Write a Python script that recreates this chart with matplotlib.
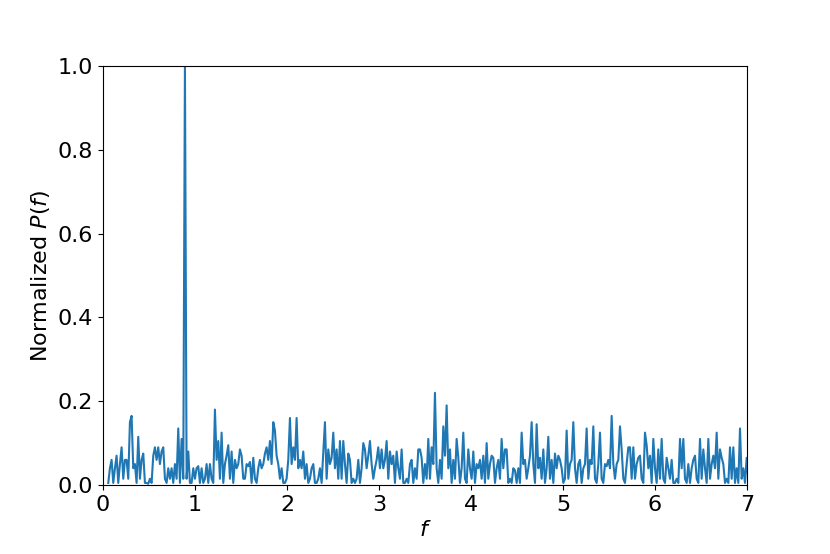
import numpy as np
import matplotlib
matplotlib.use('Agg')
import matplotlib.pyplot as plt

# normalized periodogram values, f from ~0.058 up to ~7.05
power_a = [0.005, 0.04, 0.06, 0.005, 0.04, 0.07, 0.005, 0.05, 0.09, 0.015,
           0.06, 0.06, 0.015, 0.15, 0.165, 0.04, 0.05, 0.005, 0.115, 0.015,
           0.06, 0.075, 0.005, 0.005, 0.003, 0.015, 0.005, 0.07, 0.09, 0.06,
           0.09, 0.05, 0.08, 0.09, 0.015, 0.005, 0.04, 0.015, 0.04, 0.005,
           0.05, 0.015, 0.135, 0.005, 0.11, 0.015, 1.0, 0.015, 0.08, 0.005,
           0.005, 0.04, 0.015, 0.04, 0.045, 0.005, 0.04, 0.005, 0.015, 0.05,
           0.005]
power_b = [0.05, 0.015, 0.005, 0.18, 0.06, 0.105, 0.015, 0.125, 0.005, 0.05,
           0.07, 0.095, 0.015, 0.08, 0.005, 0.06, 0.04, 0.05, 0.085, 0.07,
           0.015, 0.015, 0.05, 0.045, 0.055, 0.005, 0.065, 0.015, 0.005, 0.04,
           0.06, 0.04, 0.05, 0.075, 0.09, 0.06, 0.105, 0.05, 0.15, 0.13,
           0.07, 0.05, 0.015, 0.04, 0.005, 0.005, 0.015, 0.06, 0.16, 0.05,
           0.09, 0.06, 0.16, 0.04, 0.06, 0.04, 0.08, 0.015, 0.05, 0.005,
           0.015, 0.04, 0.05]
power_c = [0.005, 0.005, 0.015, 0.04, 0.005, 0.08, 0.15, 0.015, 0.085, 0.05,
           0.065, 0.125, 0.04, 0.085, 0.015, 0.105, 0.015, 0.105, 0.05, 0.005,
           0.075, 0.06, 0.005, 0.015, 0.005, 0.015, 0.06, 0.005, 0.04, 0.1,
           0.085, 0.04, 0.07, 0.105, 0.05, 0.015, 0.04, 0.06, 0.09, 0.04,
           0.085, 0.04, 0.06, 0.105, 0.015, 0.08, 0.05, 0.07, 0.005, 0.08,
           0.04, 0.015, 0.085, 0.005, 0.005, 0.015, 0.005, 0.05, 0.06, 0.005,
           0.04, 0.015, 0.085]
power_d = [0.085, 0.065, 0.005, 0.05, 0.015, 0.11, 0.015, 0.09, 0.05, 0.22,
           0.04, 0.005, 0.06, 0.015, 0.14, 0.07, 0.19, 0.04, 0.085, 0.005,
           0.06, 0.015, 0.11, 0.065, 0.005, 0.04, 0.125, 0.015, 0.005, 0.085,
           0.04, 0.015, 0.08, 0.005, 0.05, 0.04, 0.06, 0.015, 0.07, 0.005,
           0.1, 0.015, 0.05, 0.07, 0.065, 0.005, 0.04, 0.06, 0.015, 0.11,
           0.04, 0.085, 0.085, 0.005, 0.015, 0.005, 0.04, 0.035, 0.005, 0.04,
           0.005, 0.125, 0.05]
power_e = [0.06, 0.015, 0.04, 0.07, 0.15, 0.05, 0.005, 0.145, 0.04, 0.065,
           0.015, 0.085, 0.005, 0.04, 0.115, 0.015, 0.06, 0.005, 0.075, 0.04,
           0.07, 0.06, 0.04, 0.005, 0.015, 0.13, 0.015, 0.05, 0.06, 0.15,
           0.04, 0.005, 0.05, 0.06, 0.005, 0.04, 0.05, 0.135, 0.015, 0.06,
           0.05, 0.14, 0.015, 0.005, 0.05, 0.125, 0.015, 0.005, 0.05, 0.045,
           0.06, 0.04, 0.165, 0.05, 0.015, 0.05, 0.06, 0.14, 0.085, 0.015,
           0.005, 0.05, 0.09]
power_f = [0.09, 0.015, 0.09, 0.015, 0.05, 0.065, 0.07, 0.015, 0.005, 0.125,
           0.095, 0.04, 0.07, 0.005, 0.11, 0.04, 0.005, 0.085, 0.015, 0.11,
           0.015, 0.005, 0.065, 0.04, 0.015, 0.06, 0.005, 0.005, 0.015, 0.005,
           0.11, 0.04, 0.11, 0.015, 0.005, 0.05, 0.005, 0.04, 0.06, 0.07,
           0.015, 0.005, 0.11, 0.015, 0.085, 0.04, 0.005, 0.11, 0.015, 0.05,
           0.07, 0.04, 0.125, 0.015, 0.085, 0.065, 0.05, 0.005, 0.015, 0.005,
           0.09, 0.015, 0.09, 0.005, 0.04, 0.005, 0.135, 0.015, 0.04, 0.005,
           0.065, 0.015, 0.005]

power = np.array(power_a + power_b + power_c + power_d + power_e + power_f)
f_start = 0.058
df = 0.018116
freq = f_start + df * np.arange(len(power))

plt.rcParams['font.size'] = 16

fig = plt.figure(figsize=(8.3, 5.54), dpi=100)
ax = fig.add_axes([0.124, 0.1245, 0.776, 0.7565])
ax.plot(freq, power, color='#1f77b4', linewidth=1.5)
ax.set_xlim(0, 7)
ax.set_ylim(0, 1)
ax.set_xticks(range(0, 8))
ax.set_yticks([0.0, 0.2, 0.4, 0.6, 0.8, 1.0])
ax.set_xlabel(r'$f$')
ax.set_ylabel(r'Normalized $P(f)$')

fig.savefig('out.png', dpi=100)
